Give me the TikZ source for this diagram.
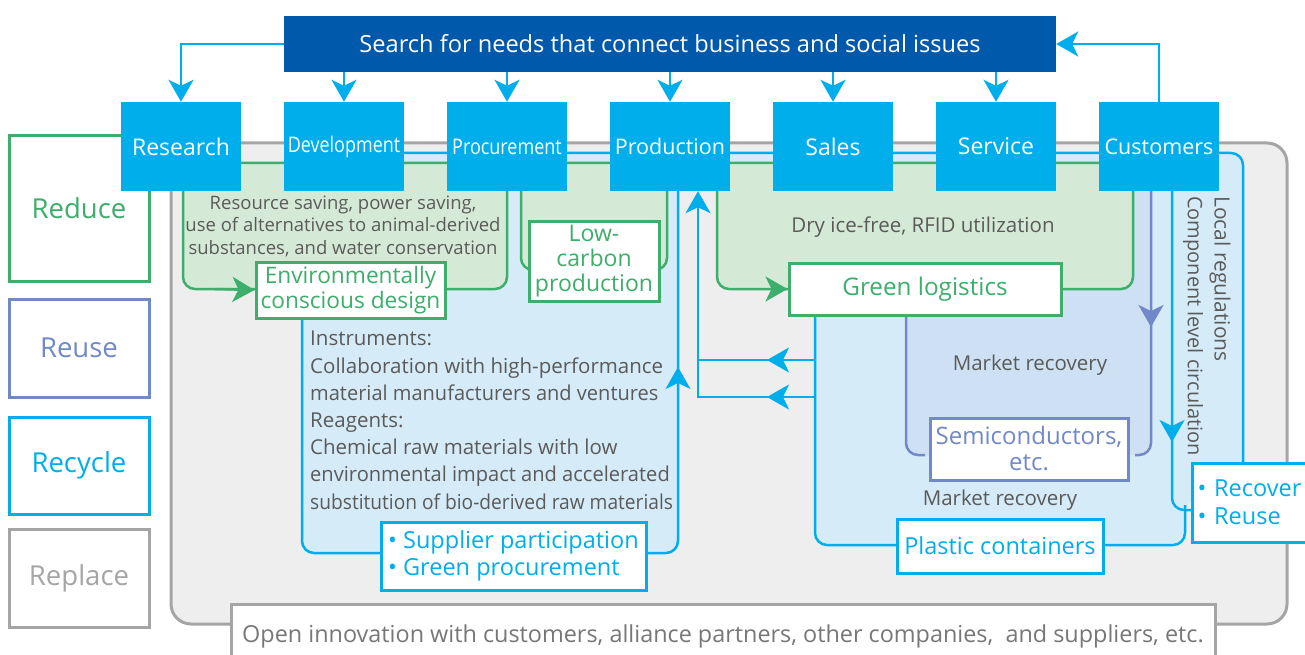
\documentclass[tikz,border=0pt]{standalone}
\usepackage{fontspec}
\setmainfont{Open Sans}
\usetikzlibrary{arrows.meta,decorations.markings,calc}
\definecolor{cy}{HTML}{00AEEB}
\definecolor{navy}{HTML}{0059AB}
\definecolor{lblue}{HTML}{D6EBF8}
\definecolor{vfill}{HTML}{CEE1F4}
\definecolor{vio}{HTML}{7189C9}
\definecolor{grn}{HTML}{3DAE6B}
\definecolor{lgrn}{HTML}{D5EAD6}
\definecolor{gbord}{HTML}{A5A5A5}
\definecolor{gfill}{HTML}{EEEEEE}
\definecolor{txt}{HTML}{5A5A5A}
\definecolor{txtl}{HTML}{777777}
\tikzset{
  tip/.style={-{Stealth[length=22pt,width=25pt,inset=6pt]}},
  midarrow/.style={postaction={decorate},decoration={markings,mark=at position #1 with {\arrow{Stealth[length=22pt,width=25pt,inset=6pt]}}}},
  cyline/.style={draw=cy,line width=2.5pt},
  violine/.style={draw=vio,line width=2.5pt},
  grnline/.style={draw=grn,line width=2.5pt},
  topbox/.style={fill=cy,text=white,minimum width=120pt,minimum height=89pt,inner sep=0pt,font=\fontsize{21.5}{26}\selectfont},
  lbl/.style={draw=#1,fill=white,line width=3pt,text=#1,inner sep=0pt,align=center,font=\fontsize{23.5}{25}\selectfont},
  sidebox/.style={draw=#1,fill=white,line width=3pt,text=#1,minimum width=140pt,inner sep=0pt,font=\fontsize{27.5}{30}\selectfont},
  gtext/.style={text=txt,inner sep=0pt,font=\fontsize{20.5}{27.2}\selectfont},
}
\begin{document}
\begin{tikzpicture}[x=1pt,y=-1pt]
\useasboundingbox (0,0) rectangle (1305,655);
% gray background panel
\draw[fill=gfill,draw=gbord,line width=3pt,rounded corners=20pt] (171,143) rectangle (1287,624);
% light blue regions
\fill[lblue,rounded corners=12pt] (302,153) -- (1243,153) -- (1243,500) -- (1185,500) -- (1185,545) -- (815,545) -- (815,180) -- (678,180) -- (678,553) -- (302,553) -- cycle;
\fill[vfill,rounded corners=12pt] (906,170) -- (1151,170) -- (1151,455) -- (906,455) -- cycle;
% cyan and violet region borders
\draw[cyline,rounded corners=12pt] (302,153) -- (1243,153) -- (1243,470);
\draw[cyline,rounded corners=12pt,midarrow=-176pt] (302,300) -- (302,553) -- (678,553) -- (678,191);
\draw[cyline,rounded corners=12pt] (815,305) -- (815,545) -- (1185,545) -- (1185,505);
\draw[cyline,rounded corners=12pt,midarrow=251pt] (1172,191) -- (1172,510) -- (1195,510);
\draw[violine,rounded corners=12pt,midarrow=136pt] (1151,191) -- (1151,455) -- (1135,455);
\draw[violine,rounded corners=12pt] (906,305) -- (906,455) -- (925,455);
% green region
\draw[grnline,fill=lgrn,rounded corners=12pt] (183,163) -- (1133,163) -- (1133,289) -- (717,289) -- (717,175) -- (667,175) -- (667,270) -- (521,270) -- (521,175) -- (507,175) -- (507,289) -- (183,289) -- cycle;
% label boxes
\node[lbl=grn,minimum width=189pt,minimum height=56pt,font=\fontsize{22.7}{25}\selectfont] (env) at (350.5,290) {Environmentally\\conscious design};
\node[lbl=grn,minimum width=130pt,minimum height=80pt,font=\fontsize{23}{25}\selectfont] (lowc) at (594,261) {Low-\\carbon\\production};
\node[lbl=grn,minimum width=272pt,minimum height=52pt,font=\fontsize{24.3}{26}\selectfont] (glog) at (925,289) {Green logistics};
\node[lbl=vio,minimum width=198pt,minimum height=62pt,font=\fontsize{24}{26}\selectfont] (semi) at (1029,449) {Semiconductors,\\etc.};
\node[lbl=cy,minimum width=206pt,minimum height=54pt] (plastic) at (1000,546) {Plastic containers};
\node[lbl=cy,minimum width=265pt,minimum height=68pt,align=left,font=\fontsize{23.5}{27}\selectfont] (supplier) at (513.5,556) {• Supplier participation\\• Green procurement};
\node[lbl=cy,anchor=west,minimum height=79pt,text width=120pt,inner xsep=5pt,align=left,font=\fontsize{23.5}{28}\selectfont] (recover) at (1191,502.5) {• Recover\\• Reuse};
% green arrows
\draw[grnline,tip] (215,289) -- (env.west);
\draw[grnline,tip] (740,289) -- (glog.west);
% arrows from logistics back to production
\draw[cyline,midarrow=48pt] (815,360) -- (698,360);
% side boxes
\node[sidebox=grn,minimum height=145pt] (reduce) at (79,208.5) {Reduce};
\node[sidebox=vio,minimum height=98pt] (reuse) at (79,348) {Reuse};
\node[sidebox=cy,minimum height=97pt] (recycle) at (79,465.5) {Recycle};
\node[sidebox=gbord,minimum height=98pt] (replace) at (79,578) {Replace};
% top boxes
\node[topbox] (research) at (181,146.5) {\fontsize{23}{26}\selectfont Research};
\node[topbox] (dev) at (344,146.5) {\scalebox{0.835}[1]{Development}};
\node[topbox] (proc) at (507,146.5) {\scalebox{0.837}[1]{Procurement}};
\node[topbox] (prod) at (670,146.5) {Production};
\node[topbox] (sales) at (833,146.5) {\fontsize{23}{26}\selectfont Sales};
\node[topbox] (service) at (996,146.5) {\fontsize{23}{26}\selectfont Service};
\node[topbox] (customers) at (1159,146.5) {Customers};
\draw[cyline,midarrow=48pt,tip] (815,397) -- (698,397) -- ([xshift=28pt]prod.south);
% header bar
\node[fill=navy,text=white,minimum width=772pt,minimum height=56pt,inner sep=0pt,font=\fontsize{23.6}{26}\selectfont] (bar) at (670,44) {Search for needs that connect business and social issues};
\draw[cyline,tip] (bar.west) -| (research.north);
\foreach \n in {dev,proc,prod,sales,service}{
  \draw[cyline,tip] (bar.south -| \n.north) -- (\n.north);
}
\draw[cyline,tip] (customers.north) |- (bar.east);
% bottom box
\node[draw=gbord,fill=white,line width=3pt,minimum width=984pt,minimum height=64pt,inner sep=0pt,text=txtl,font=\fontsize{23.4}{24}\selectfont] (open) at (723,636) {Open innovation with customers, alliance partners, other companies,\ \ and suppliers, etc.};
% texts
\node[gtext,align=center,font=\fontsize{18.5}{22.5}\selectfont] (rsv) at (343,226) {Resource saving, power saving,\\use of alternatives to animal-derived\\substances, and water conservation};
\node[gtext,align=left,anchor=north west] (instr) at (310,331) {Instruments:\\Collaboration with high-performance\\\scalebox{0.977}[1]{material manufacturers and ventures}\\Reagents:\\Chemical raw materials with low\\\scalebox{0.98}[1]{environmental impact and accelerated}\\\scalebox{0.935}[1]{substitution of bio-derived raw materials}};
\node[gtext] (dry) at (923,227) {Dry ice-free, RFID utilization};
\node[gtext] (mr1) at (1030,365) {Market recovery};
\node[gtext] (mr2) at (1000,500) {Market recovery};
\node[gtext,rotate=-90,font=\fontsize{21}{24}\selectfont] (locreg) at (1220,279) {Local regulations};
\node[gtext,rotate=-90,font=\fontsize{20}{24}\selectfont] (comp) at (1193,326) {Component level circulation};
\end{tikzpicture}
\end{document}
